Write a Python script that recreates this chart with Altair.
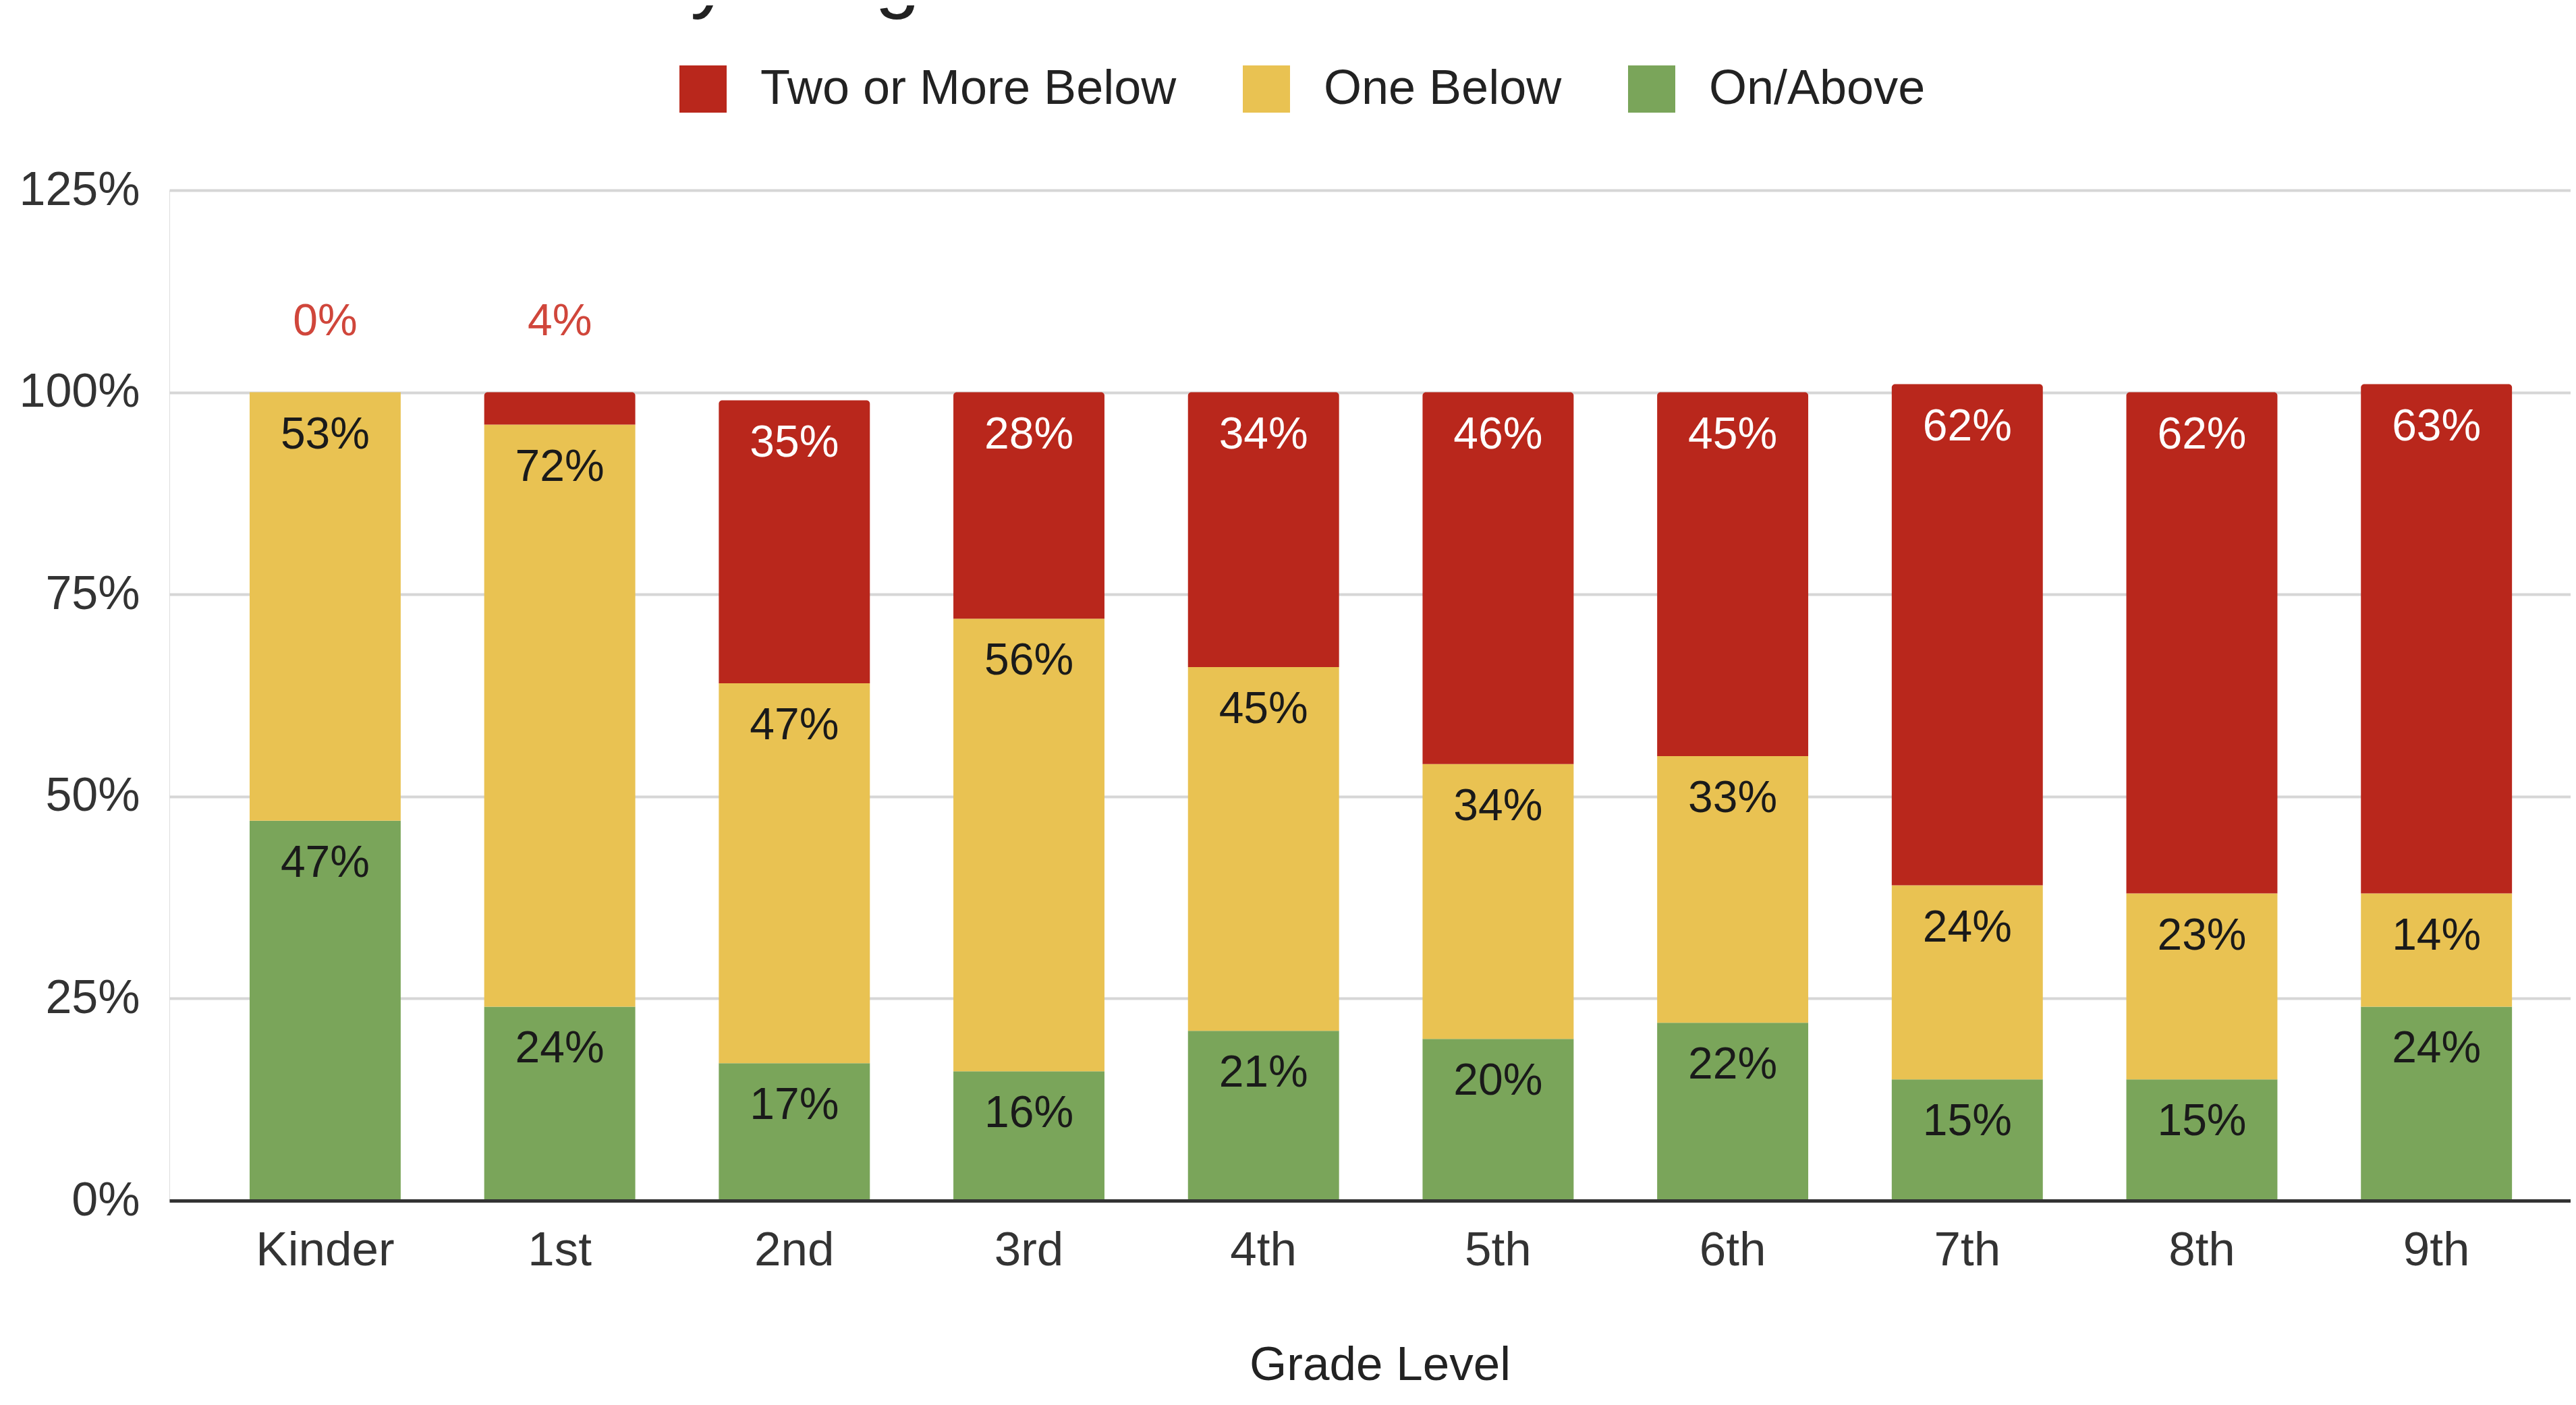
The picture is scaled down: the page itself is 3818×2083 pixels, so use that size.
import altair as alt
import pandas as pd

# ---- data ----
grades = ["Kinder", "1st", "2nd", "3rd", "4th", "5th", "6th", "7th", "8th", "9th"]
on_above = [47, 24, 17, 16, 21, 20, 22, 15, 15, 24]
one_below = [53, 72, 47, 56, 45, 34, 33, 24, 23, 14]
two_more = [0, 4, 35, 28, 34, 46, 45, 62, 62, 63]
series = ["Two or More Below", "One Below", "On/Above"]
colors = ["#B9271C", "#E9C252", "#7AA55A"]
y_ticks = [0, 25, 50, 75, 100, 125]
title_text = "21-22 MOY i-Ready Diagnostic Data"
x_title = "Grade Level"

FONT = "Liberation Sans"

rows = []
for i, g in enumerate(grades):
    base = 0
    for s, v in (("On/Above", on_above[i]), ("One Below", one_below[i]), ("Two or More Below", two_more[i])):
        rows.append(dict(grade=g, series=s, value=v, y0=base, y1=base + v, label=f"{v}%"))
        base += v
df = pd.DataFrame(rows)

base = alt.Chart(df)

xenc = alt.X(
    "grade:N",
    sort=grades,
    scale=alt.Scale(paddingInner=0.356, paddingOuter=0.296, align=0.578),
    axis=alt.Axis(
        title=x_title, labelAngle=0, ticks=False, domain=True, domainColor="#333333",
        domainWidth=5, labelPadding=39, labelFontSize=71, labelColor="#333333", labelFont=FONT,
        labelLimit=0,
        titleFontSize=71, titleFont=FONT, titleFontWeight="normal", titleColor="#222222",
        titleX=1794, titleY=265, titleBaseline="alphabetic", titleAlign="center", grid=False, zindex=1,
    ),
)
yscale = alt.Scale(domain=[0, 125], nice=False, zero=True)
yenc = alt.Y(
    "y0:Q",
    scale=yscale,
    axis=alt.Axis(
        values=y_ticks, labelExpr="datum.value + '%'", title=None, domain=False, ticks=False,
        labelPadding=44, labelFontSize=70, labelColor="#333333", labelFont=FONT, labelLimit=0,
        gridColor="#d6d6d6", gridWidth=4,
    ),
)
color = alt.Color(
    "series:N",
    scale=alt.Scale(domain=series, range=colors),
    legend=alt.Legend(
        orient="none", direction="horizontal", legendX=755, legendY=-186, title=None,
        symbolType="square", symbolSize=4900, symbolStrokeWidth=0, symbolOpacity=1,
        labelFontSize=72, labelFont=FONT, labelColor="#222222", labelOffset=49,
        columnPadding=97, padding=0, labelLimit=2000,
    ),
)

bars_low = base.transform_filter("datum.series != 'Two or More Below'").mark_bar(strokeWidth=0).encode(
    x=xenc, y=yenc, y2="y1:Q", color=color
)
bars_red = base.transform_filter("datum.series == 'Two or More Below' && datum.value > 0").mark_bar(
    strokeWidth=0, cornerRadiusTopLeft=5, cornerRadiusTopRight=5
).encode(x=xenc, y=yenc, y2="y1:Q", color=color)

lbl_dark = base.transform_filter("datum.series != 'Two or More Below'").mark_text(
    baseline="middle", dy=63, fontSize=66, font=FONT, color="#1a1a1a"
).encode(x=xenc, y=alt.Y("y1:Q", scale=yscale), text="label:N")
lbl_white = base.transform_filter("datum.series == 'Two or More Below' && datum.value >= 5").mark_text(
    baseline="middle", dy=63, fontSize=66, font=FONT, color="#ffffff"
).encode(x=xenc, y=alt.Y("y1:Q", scale=yscale), text="label:N")
lbl_out = base.transform_filter("datum.series == 'Two or More Below' && datum.value < 5").mark_text(
    baseline="middle", dy=-105, fontSize=66, font=FONT, color="#D0463B"
).encode(x=xenc, y=alt.Y("y1:Q", scale=yscale), text="label:N")

# chart title: in the reference it sits at the very top edge, cut off by the frame
title = alt.Chart(pd.DataFrame({"t": [title_text]})).mark_text(
    align="left", baseline="alphabetic", fontSize=120, font=FONT, color="#222222"
).encode(text="t:N", x=alt.value(-226), y=alt.value(-278))

chart = alt.layer(bars_low, bars_red, lbl_dark, lbl_white, lbl_out, title).properties(
    width=3559, height=1498,
    autosize=alt.AutoSizeParams(type="none"),
    padding={"left": 243, "top": 274, "right": 0, "bottom": 280},
).configure_view(stroke=None).configure(font=FONT)

chart.save("out.html", embed_options={"renderer": "svg", "actions": False})
